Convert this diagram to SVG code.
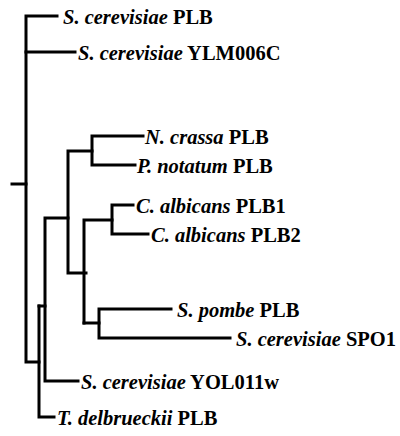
<svg xmlns="http://www.w3.org/2000/svg" width="400" height="436" viewBox="0 0 400 436">
<style>
.e{fill:none;stroke:#000;stroke-width:3;stroke-linecap:square;stroke-linejoin:miter}
text{font-family:"Liberation Serif","Times New Roman",serif;font-size:20.5px;font-weight:bold;fill:#000}
.i{font-style:italic}
</style>
<rect width="400" height="436" fill="#fff"/>
<g id="connectors">
<path class="e" d="M12,184H26"/>
<path class="e" d="M57,16H26V362H39"/>
<path class="e" d="M26,52H75"/>
<path class="e" d="M39,306V417H54"/>
<path class="e" d="M39,306H45"/>
<path class="e" d="M68,218H45V381H78"/>
<path class="e" d="M92,151H68V273H86"/>
<path class="e" d="M143,136H92V165H135"/>
<path class="e" d="M84,323V220H112"/>
<path class="e" d="M133,205H112V234H148"/>
<path class="e" d="M84,323H99"/>
<path class="e" d="M171,309H99V338H230"/>
</g>
<g id="n1"><text x="63" y="24"><tspan class="i">S. cerevisiae</tspan> PLB</text></g>
<g id="n2"><text x="78" y="60"><tspan class="i">S. cerevisiae</tspan> YLM006C</text></g>
<g id="n3"><text x="145" y="144"><tspan class="i">N. crassa</tspan> PLB</text></g>
<g id="n4"><text x="137" y="173"><tspan class="i">P. notatum</tspan> PLB</text></g>
<g id="n5"><text x="136" y="213"><tspan class="i">C. albicans</tspan> PLB1</text></g>
<g id="n6"><text x="151" y="242"><tspan class="i">C. albicans</tspan> PLB2</text></g>
<g id="n7"><text x="177" y="317"><tspan class="i">S. pombe</tspan> PLB</text></g>
<g id="n8"><text x="236" y="346"><tspan class="i">S. cerevisiae</tspan> SPO1</text></g>
<g id="n9"><text x="81" y="389"><tspan class="i">S. cerevisiae</tspan> YOL011w</text></g>
<g id="n10"><text x="57" y="425"><tspan class="i">T. delbrueckii</tspan> PLB</text></g>
</svg>
